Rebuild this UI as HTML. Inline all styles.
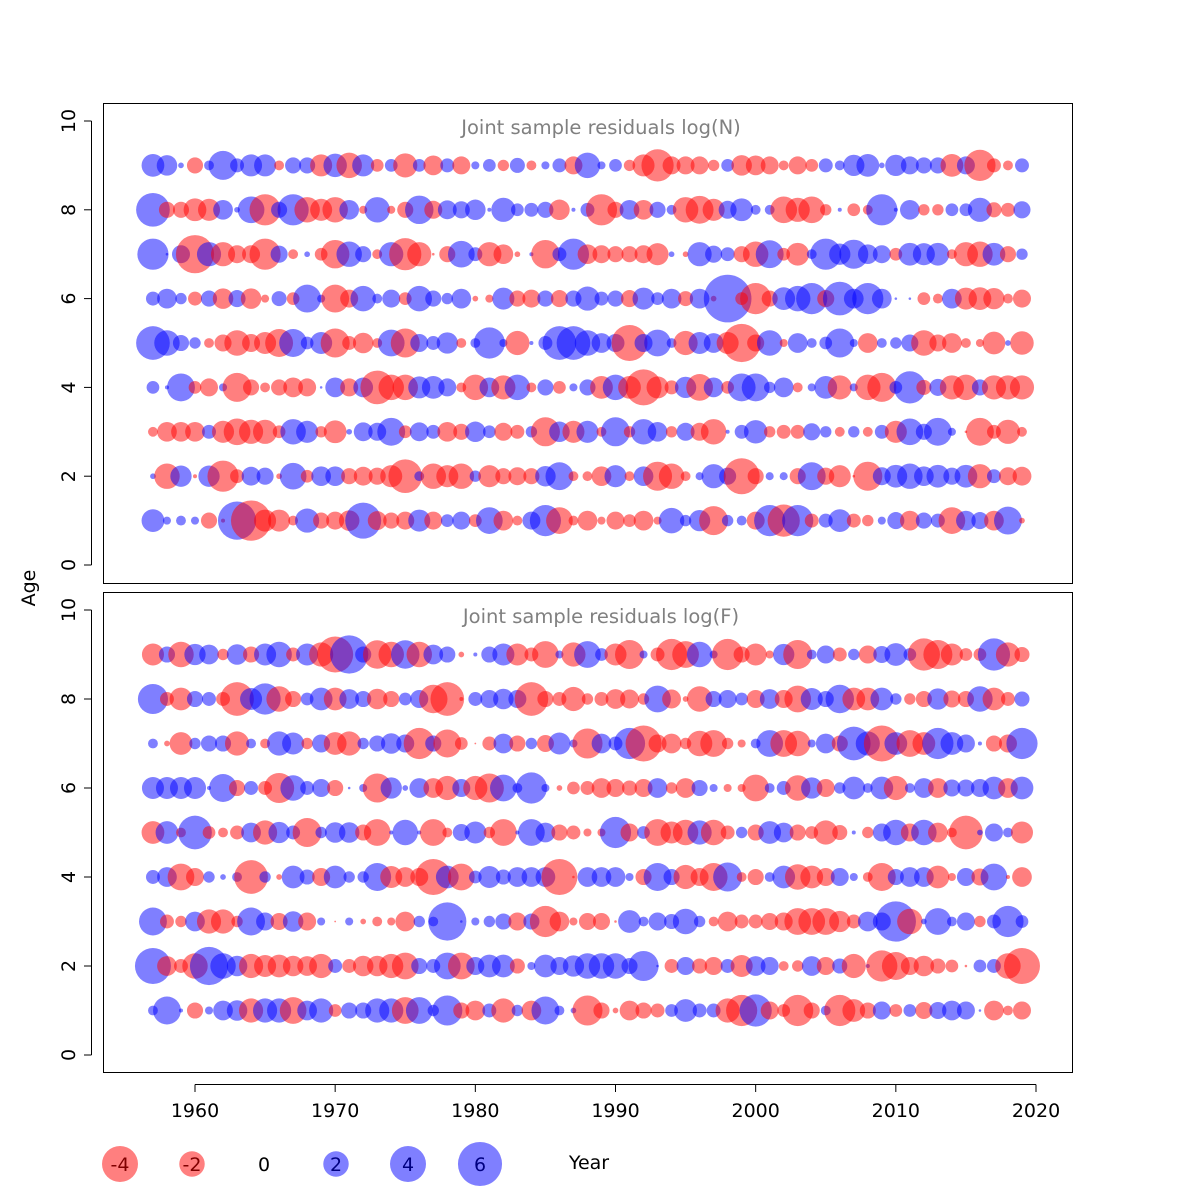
<!DOCTYPE html>
<html><head><meta charset="utf-8"><style>
body{margin:0;background:#fff}
svg{display:block;font-family:"DejaVu Sans","Liberation Sans",sans-serif}
</style></head><body>
<svg id="chart" width="1200" height="1200" viewBox="0 0 1200 1200" xmlns="http://www.w3.org/2000/svg"></svg>
<script>
const years=[];for(let y=1957;y<=2019;y++)years.push(y);
const ages=[1,2,3,4,5,6,7,8,9];
const legendValues=[-4,-2,0,2,4,6];
const yTicks=[0,2,4,6,8,10];
const xTicks=[1960,1970,1980,1990,2000,2010,2020];
const titles=["Joint sample residuals log(N)","Joint sample residuals log(F)"];
// log(N) residuals, by age
const nAge1=[1.6,0.2,0.3,0.2,-0.8,-0.05,4.5,-5.0,-1.5,-1.5,-0.3,1.8,-0.8,-1.0,-1.3,4.0,-1.1,-0.8,-1.0,1.5,-1.0,0.5,1.0,-0.5,2.2,-1.2,-0.3,1.0,3.0,-2.2,-0.3,-1.2,-0.2,-1.0,-0.5,-1.2,-0.2,2.0,0.4,1.4,-2.6,0.4,0.3,-1.0,3.0,-3.2,3.0,-0.6,0.6,1.6,-0.6,-0.4,0.2,0.9,-1.2,0.8,0.6,-2.2,1.2,0.9,-1.2,2.4,-0.1];
const nAge2=[0.1,-2.0,1.4,-0.05,1.4,-3.0,-0.6,1.1,0.9,-0.1,2.2,-0.5,1.2,1.2,-0.8,-1.1,-0.9,-1.5,-3.5,0.3,-2.0,-1.5,-2.0,0.4,-1.5,-0.8,-1.0,-0.8,1.3,2.4,-0.3,-0.3,-1.2,1.5,-0.3,1.2,-2.6,-2.0,-0.3,0.2,1.8,0.9,-4.0,-0.8,0.2,0.2,-0.8,2.4,-0.9,-1.5,-0.02,-2.6,1.0,1.6,2.0,1.2,1.6,0.9,1.6,-1.8,0.6,-1.0,-1.1];
const nAge3=[-0.3,-1.2,-1.2,-1.2,0.6,-1.5,-2.2,-1.8,-1.8,-0.5,2.0,1.5,-0.4,-1.6,0.1,1.1,1.0,2.4,-0.5,1.1,0.6,-1.2,-0.8,1.3,0.5,-1.0,-0.6,0.4,-2.6,1.3,-1.5,1.5,-0.3,2.6,-0.4,2.0,1.2,-0.4,1.0,-1.0,-2.0,0.05,0.6,1.7,-0.4,-0.6,-0.6,0.9,0.4,-0.3,0.4,-0.3,0.6,-1.5,2.2,0.8,2.4,0.2,-0.02,-2.4,-0.6,-1.8,-0.3];
const nAge4=[0.5,0.05,2.4,-0.5,-1.0,0.2,-2.6,-0.8,-0.3,-0.8,-1.2,-1.0,0.02,1.2,-1.0,1.2,-3.5,-2.0,-2.0,1.5,1.6,1.0,-0.3,-2.0,1.2,-1.8,2.0,-0.3,0.8,-0.5,0.2,0.8,-1.6,2.0,-1.6,-4.0,-1.5,-0.6,1.4,-2.2,1.2,-0.5,2.4,2.4,0.4,1.2,-0.3,0.2,1.6,-1.8,0.2,-2.0,-2.6,0.5,3.2,-0.7,0.9,-1.8,-2.0,0.8,-1.8,-1.8,-1.8];
const nAge5=[3.5,2.0,0.8,0.4,-0.3,-0.9,-2.0,-1.0,-1.5,-2.4,2.4,0.5,1.5,-2.6,-0.6,-1.3,-0.3,2.2,-2.6,1.0,0.6,1.4,-0.3,0.3,3.0,0.2,-1.8,0.05,0.6,3.5,3.5,2.0,1.2,1.0,-4.0,1.0,2.2,0.3,-1.8,1.5,1.2,-1.5,-4.5,-0.9,2.0,-0.2,1.2,0.3,0.5,2.6,0.2,-1.2,0.3,0.4,0.9,-2.0,-0.9,-1.2,-0.3,-0.2,-1.6,0.1,-1.7];
const nAge6=[0.6,1.2,0.4,-0.6,0.8,-1.3,0.9,-1.3,-0.2,0.7,-0.5,2.4,0.2,-2.4,-1.0,2.0,0.3,1.0,-0.5,2.0,0.8,0.4,1.2,-0.1,-0.2,1.5,-0.8,-1.0,0.8,-0.9,0.8,1.8,0.6,0.8,-0.9,1.5,0.5,1.2,-0.7,1.2,-0.1,7.0,-0.5,-3.0,-0.8,1.6,2.0,3.0,-0.9,3.5,1.2,3.0,1.2,0.02,0.02,-0.5,-0.3,1.2,-1.5,-1.6,-1.4,-0.3,-1.0];
const nAge7=[3.0,0.02,1.0,-4.5,1.8,-1.8,-1.0,-1.0,-3.0,0.9,-0.3,0.1,-0.5,-2.5,2.0,0.8,-0.3,1.8,-3.2,-1.8,-0.02,-0.8,2.2,0.6,-1.8,-1.2,-0.1,0.05,-2.5,0.6,3.0,-1.2,-1.0,-0.8,-0.8,-1.0,-1.5,0.1,-0.1,1.8,0.9,0.6,-0.8,-2.0,2.4,-0.5,-1.6,0.3,3.0,1.4,2.6,1.2,1.0,-0.5,1.6,1.5,1.6,-0.3,-1.8,-2.0,1.6,-0.8,0.4];
const nAge8=[3.5,-0.8,-0.8,-1.6,-1.5,1.2,0.1,2.2,-3.0,0.8,3.0,-2.0,-1.5,-2.0,1.2,-0.2,2.0,-0.2,-0.8,2.5,-1.0,1.1,0.9,1.3,0.05,1.8,0.5,0.6,0.8,-1.3,0.05,0.6,-3.0,-0.8,1.2,-1.2,0.8,0.3,-2.0,-2.4,-1.5,1.0,1.6,0.3,0.3,-2.2,-1.8,-2.2,-0.4,0.05,-0.5,-0.3,3.0,0.05,1.2,-0.4,-0.4,0.5,0.5,1.8,-0.7,-0.6,0.9];
const nAge9=[1.6,1.3,0.1,-0.8,0.3,2.6,0.6,1.5,1.5,-0.3,0.8,0.8,-1.5,1.7,-2.0,1.5,-0.5,0.5,-1.8,0.5,-1.2,0.6,-1.0,0.2,0.5,-0.4,0.7,-0.3,0.2,0.6,-1.0,2.0,0.2,0.5,-0.4,-1.5,-3.2,-1.0,-1.0,-1.0,-0.4,0.5,-1.3,-1.2,-1.0,-0.3,-1.0,-0.5,0.6,0.3,1.4,1.6,0.1,1.4,1.0,0.8,0.8,-1.6,1.0,-3.0,-0.6,-0.3,0.6];
// log(F) residuals, by age
const fAge1=[0.3,2.4,0.05,-0.8,0.2,1.2,1.3,-1.8,1.8,1.8,-2.2,1.2,1.8,-0.5,0.8,0.8,1.8,1.8,-2.2,2.2,0.4,2.8,-0.8,-1.2,0.6,-1.8,0.4,-1.2,2.4,0.3,0.1,-2.8,-0.8,-0.1,-1.2,-0.8,-0.6,0.5,1.6,0.6,0.6,-1.8,-3.0,3.2,-1.0,-0.5,-3.0,-0.8,0.3,-3.0,-1.6,-0.8,1.0,-0.5,0.5,-0.9,0.9,1.2,1.0,0.02,-1.2,-0.3,-1.0];
const fAge2=[4.0,-1.2,-0.6,-2.0,4.5,2.0,1.3,-1.8,-1.5,-1.6,-1.3,-1.2,-1.8,0.6,-0.6,-1.3,-1.3,-1.8,-2.2,0.8,0.6,2.2,-2.2,1.0,1.6,1.6,-0.7,0.2,1.6,1.0,1.4,2.0,2.0,2.0,0.8,2.8,0.02,-0.6,1.0,-0.7,-1.0,0.6,-1.5,1.2,1.0,-0.3,-0.4,1.2,-1.0,0.7,-1.8,0.05,-3.0,-2.4,-1.0,-1.3,-0.7,-0.5,-0.02,0.5,0.6,-2.0,-4.0];
const fAge3=[2.4,-0.6,-0.4,1.2,-1.8,-1.8,-0.4,2.4,1.0,-0.9,1.3,-1.0,0.2,-0.01,0.2,-0.1,-0.3,-0.2,-1.2,0.4,0.3,4.5,0.02,0.2,0.4,0.8,-1.0,0.8,-3.0,-1.2,-0.2,-0.9,-0.9,-0.02,1.6,0.3,1.0,0.7,2.0,0.4,-0.3,-1.2,-0.6,-0.6,-0.9,-1.0,-2.2,-2.2,-2.2,-1.4,-0.6,1.2,1.0,5.0,-2.0,0.1,2.2,0.3,1.0,-0.4,0.6,3.0,0.5];
const fAge4=[0.6,1.2,-2.2,-1.0,0.4,0.1,0.3,-3.5,0.4,-0.1,1.6,0.7,-1.0,1.6,0.4,0.4,2.4,-1.5,-1.2,-1.0,-4.0,1.6,-2.2,0.5,1.5,0.7,1.2,1.2,1.2,-4.0,-0.02,1.2,1.2,1.2,0.2,-0.8,2.4,0.8,-1.8,-1.0,-2.4,2.6,-0.3,-0.8,0.3,1.6,-2.0,-1.6,-1.0,1.0,0.2,-0.3,-2.4,0.8,1.2,1.2,-1.6,-0.2,1.0,-0.9,2.2,-0.05,-1.2];
const fAge5=[-1.6,1.6,-0.3,3.5,-0.5,-0.3,-0.6,1.2,-1.8,1.4,0.6,-2.6,0.4,1.3,1.3,-0.8,-2.2,0.05,2.0,0.05,-2.2,-0.3,0.9,1.5,-0.4,-2.2,0.05,2.2,1.2,-0.8,-0.6,-0.2,-0.2,3.0,-1.0,0.5,-2.2,-1.5,-2.0,1.8,-2.0,-0.6,0.4,-0.8,1.6,1.2,-0.8,-0.5,-1.8,-0.7,0.05,-0.4,1.0,2.0,-1.0,2.0,-1.2,-0.3,-3.5,0.1,1.0,0.3,-1.5];
const fAge6=[1.5,1.5,1.5,1.5,0.05,2.4,-0.8,0.6,-0.6,-2.8,2.0,0.6,1.0,-0.8,0.02,0.2,-2.6,1.4,0.1,1.2,-1.2,-1.8,1.0,-1.8,-2.6,2.2,0.3,3.0,0.2,-0.1,-0.5,-0.6,-1.2,-1.0,-0.7,-1.0,1.2,-0.4,-1.2,0.8,0.2,-0.2,-0.2,-2.2,0.3,0.6,-2.0,1.4,-1.0,0.4,1.6,0.3,1.6,-1.8,0.3,1.2,-1.2,0.9,0.9,1.0,1.6,-1.2,1.6];
const fAge7=[0.3,-0.1,-1.6,0.4,0.8,0.8,-1.8,0.3,-0.3,1.8,1.5,-0.4,1.0,-1.6,-1.8,0.4,0.8,1.3,1.0,-3.0,0.8,-2.4,-0.5,-0.01,-0.6,1.2,-0.8,0.4,-0.9,1.5,0.2,-2.8,1.2,0.6,3.0,-4.0,-1.0,-1.2,-0.4,-2.0,-2.2,-0.4,-0.2,0.3,2.2,-2.2,-2.0,0.2,1.2,-0.8,3.5,1.8,-4.0,1.6,-2.2,-1.6,3.0,1.6,1.0,0.05,-0.8,-1.0,3.0];
const fAge8=[2.8,-0.6,-1.6,0.8,0.6,-0.6,-3.5,1.5,3.0,-2.0,-0.8,0.5,1.6,-1.6,1.2,0.8,-1.3,-0.8,0.5,1.0,-2.5,-3.5,-0.05,0.6,1.0,1.3,1.0,-3.5,-0.8,-0.6,-1.8,-0.4,-0.6,-1.2,-1.1,-0.4,2.2,-1.1,-0.1,-2.0,0.8,1.0,0.5,-1.0,1.2,-1.0,-2.2,1.5,0.8,2.5,-1.6,-1.6,1.6,0.4,-0.4,-0.8,1.4,-0.9,-0.8,2.0,-1.6,-0.6,0.7];
const fAge9=[-1.5,0.8,-2.0,1.4,1.2,-0.4,1.3,-0.8,1.5,2.0,-0.6,1.5,-1.8,-4.0,4.5,0.8,-2.5,-2.0,2.5,-2.0,1.2,0.8,-0.1,0.05,0.8,1.5,-1.5,-0.6,-2.2,0.2,-1.8,2.2,0.5,-1.5,-2.6,0.2,-0.6,-3.0,-2.2,2.0,0.2,-3.0,-0.8,-1.5,-0.2,1.4,-2.6,0.3,1.0,-0.6,0.4,-1.0,0.9,1.6,0.5,-3.2,-2.6,-1.5,-0.5,-0.5,3.2,-1.8,-0.7];

const nRows=[nAge1,nAge2,nAge3,nAge4,nAge5,nAge6,nAge7,nAge8,nAge9];
const fRows=[fAge1,fAge2,fAge3,fAge4,fAge5,fAge6,fAge7,fAge8,fAge9];

const NS="http://www.w3.org/2000/svg";
const svg=document.getElementById('chart');
function mk(tag,attrs,parent){const e=document.createElementNS(NS,tag);for(const k in attrs)e.setAttribute(k,attrs[k]);(parent||svg).appendChild(e);return e;}
const xScale=yr=>195+(yr-1960)*(1036-195)/60;
const rScale=v=>9*Math.sqrt(Math.abs(v));
const panels=[{top:103,bottom:583,y0:565,y10:121,rows:nRows,name:'logn'},{top:592,bottom:1072,y0:1055,y10:610,rows:fRows,name:'logf'}];

panels.forEach((p,pi)=>{
  const g=mk('g',{});
  
  
  const yScale=v=>p.y0+(p.y10-p.y0)*v/10;
  const box=mk('rect',{x:103.5,y:p.top+0.5,width:969,height:p.bottom-p.top,fill:'none',stroke:'#000','stroke-width':1},g);
  
  
  const ttl=mk('text',{x:601,y:p.top+31,'text-anchor':'middle','font-size':19.5,fill:'#808080'},g);
  ttl.textContent=titles[pi];
  
  
  const ax=mk('g',{},g);
  
  
  mk('line',{x1:91.5,x2:91.5,y1:yScale(0),y2:yScale(10),stroke:'#000'},ax);
  yTicks.forEach(t=>{
    const yy=yScale(t);
    mk('line',{x1:84,x2:91.5,y1:yy,y2:yy,stroke:'#000'},ax);
    const tl=mk('text',{x:75,y:yy,'text-anchor':'middle','font-size':19,transform:`rotate(-90 75 ${yy})`},ax);
    tl.textContent=t;
    
    
  });
  const bg=mk('g',{},g);
  
  
  p.rows.forEach((row,ai)=>{
    row.forEach((v,yi)=>{
      if(yi>=years.length)return;
      const c=mk('circle',{cx:xScale(years[yi]),cy:yScale(ages[ai]),r:rScale(v),fill:v<0?'rgba(255,0,0,0.5)':'rgba(0,0,255,0.5)'},bg);
      
      
    });
  });
});

const ageL=mk('text',{x:35,y:588,'text-anchor':'middle','font-size':19,transform:'rotate(-90 35 588)'});
ageL.textContent='Age';



const xa=mk('g',{});


mk('line',{x1:xScale(1960),x2:xScale(2020),y1:1084.5,y2:1084.5,stroke:'#000'},xa);
xTicks.forEach(t=>{
  const xx=xScale(t);
  mk('line',{x1:xx,x2:xx,y1:1084.5,y2:1092,stroke:'#000'},xa);
  const tl=mk('text',{x:xx,y:1117,'text-anchor':'middle','font-size':19},xa);
  tl.textContent=t;
  
  
});

const lg=mk('g',{});


legendValues.forEach((v,i)=>{
  const cx=120+i*72;
  const t=mk('text',{x:cx,y:1171,'text-anchor':'middle','font-size':19},lg);
  t.textContent=v;
  
  
  if(v!==0){
    const c=mk('circle',{cx:cx,cy:1164,r:rScale(v),fill:v<0?'rgba(255,0,0,0.5)':'rgba(0,0,255,0.5)'},lg);
    
    
  }
});
const yl=mk('text',{x:589,y:1169,'text-anchor':'middle','font-size':19});
yl.textContent='Year';


</script>
</body></html>
